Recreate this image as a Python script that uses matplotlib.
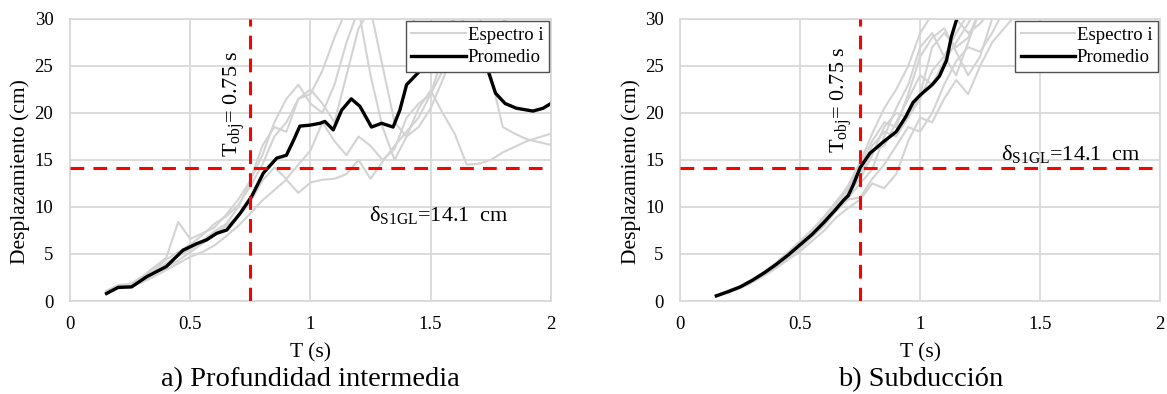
import matplotlib
matplotlib.use('Agg')
import matplotlib.pyplot as plt

plt.rcParams['font.family'] = ['Liberation Serif', 'DejaVu Serif']
plt.rcParams['mathtext.fontset'] = 'custom'
plt.rcParams['mathtext.rm'] = 'Liberation Serif'
plt.rcParams['mathtext.it'] = 'Liberation Serif:italic'

# periodo (s) comun a los espectros
T = [0.15, 0.20, 0.25, 0.30, 0.35, 0.40, 0.45, 0.50, 0.55, 0.60, 0.65, 0.70,
     0.75, 0.80, 0.85, 0.90, 0.95, 1.00, 1.05, 1.10, 1.15, 1.20, 1.25, 1.30,
     1.35, 1.40, 1.45, 1.50, 1.55, 1.60, 1.65, 1.70, 1.75, 1.80, 1.85, 1.90,
     1.95, 2.00]

# a) profundidad intermedia: espectros individuales (cm)
esp_a1 = [1.0, 1.7, 1.8, 2.6, 3.6, 4.6, 8.4, 6.6, 7.2, 7.8, 9.2, 10.8,
          12.8, 15.5, 19.0, 21.5, 23.0, 21.0, 20.0, 23.0, 27.5, 31.0, 24.0, 18.5,
          15.0, 17.5, 20.5, 22.4, 20.0, 17.8, 14.5, 14.6, 15.0, 15.8, 16.4, 17.0,
          17.4, 17.8]
esp_a2 = [0.9, 1.3, 1.5, 2.0, 2.6, 3.3, 4.0, 4.7, 5.2, 5.9, 6.9, 8.0,
          9.3, 10.7, 11.8, 12.9, 11.5, 12.6, 12.9, 13.0, 13.5, 15.0, 13.0, 14.8,
          16.5, 18.0, 19.5, 22.0, 26.0, 31.0, 31.0, 31.0, 24.0, 18.5, 17.8, 17.2,
          16.9, 16.6]
esp_a3 = [1.1, 1.6, 1.7, 2.5, 3.3, 4.4, 5.2, 6.0, 7.0, 8.2, 9.0, 10.2,
          12.2, 14.5, 17.5, 19.0, 21.5, 22.0, 24.5, 28.0, 31.0, 31.5, 31.0, 25.0,
          19.0, 17.5, 18.5, 20.5, 23.5, 27.0, 31.0, 31.0, 31.0, 30.0, 28.0, 26.0,
          27.0, 28.0]
esp_a4 = [0.8, 1.5, 1.6, 2.2, 2.9, 3.6, 4.3, 5.2, 6.1, 7.0, 8.0, 9.0,
          10.5, 12.8, 14.2, 13.0, 14.5, 16.0, 19.0, 17.0, 15.5, 17.5, 16.5, 15.0,
          16.2, 19.5, 21.0, 22.0, 24.5, 28.0, 31.0, 31.0, 31.0, 30.0, 29.0, 28.0,
          28.0, 29.0]
esp_a5 = [0.9, 1.6, 1.7, 2.4, 3.1, 4.0, 4.8, 5.5, 6.4, 7.4, 8.2, 10.0,
          12.8, 16.5, 18.5, 18.0, 21.5, 22.5, 21.0, 19.0, 24.0, 29.0, 31.0, 31.0,
          31.0, 31.0, 29.0, 27.0, 28.0, 30.0, 31.0, 31.0, 31.0, 31.0, 31.0, 31.0,
          31.0, 31.0]

# a) promedio
prom_a_T = [0.152, 0.20, 0.256, 0.32, 0.40, 0.47, 0.527, 0.568, 0.61, 0.652,
            0.707, 0.755, 0.804, 0.86, 0.90, 0.93, 0.956, 0.998, 1.04, 1.06,
            1.095, 1.13, 1.17, 1.206, 1.254, 1.296, 1.344, 1.372, 1.40, 1.434,
            1.46, 1.52, 1.60, 1.68, 1.74, 1.77, 1.81, 1.857, 1.926, 1.968, 2.0]
prom_a = [0.8, 1.45, 1.5, 2.6, 3.65, 5.4, 6.1, 6.5, 7.2, 7.55,
          9.3, 11.1, 13.6, 15.2, 15.5, 17.1, 18.6, 18.7, 18.9, 19.1,
          18.2, 20.3, 21.5, 20.7, 18.5, 18.9, 18.5, 20.3, 23.0, 23.9,
          24.6, 25.8, 26.8, 26.2, 24.4, 22.1, 21.0, 20.5, 20.2, 20.5, 21.0]

# b) subduccion: espectros individuales (cm)
T_b = T[:28]
esp_b = [
    [0.5, 1.0, 1.5, 2.2, 3.0, 3.9, 5.0, 6.2, 7.3, 8.6, 10.2, 11.0, 12.5, 14.0,
     17.5, 20.5, 23.0, 27.0, 28.5, 26.0, 24.0, 27.5, 31.0, 31.5, 32, 32, 32, 32],
    [0.5, 0.9, 1.4, 2.0, 2.7, 3.5, 4.4, 5.3, 6.4, 7.5, 8.9, 9.9, 10.8, 12.5,
     12.0, 13.5, 17.0, 19.5, 19.0, 21.5, 23.5, 22.0, 25.0, 27.5, 29.0, 30.5, 32, 32],
    [0.6, 1.1, 1.6, 2.3, 3.1, 4.1, 5.2, 6.4, 7.6, 9.0, 10.6, 12.0, 14.5, 17.0,
     19.0, 18.5, 22.0, 26.0, 28.0, 29.0, 26.5, 24.0, 26.0, 30.0, 32, 32, 32, 32],
    [0.5, 1.0, 1.5, 2.1, 2.9, 3.8, 4.8, 5.9, 7.0, 8.3, 9.8, 11.5, 13.0, 15.5,
     18.5, 20.0, 19.5, 22.0, 27.0, 28.5, 27.0, 28.0, 31.0, 32, 32, 32, 32, 32],
    [0.5, 0.9, 1.4, 2.0, 2.8, 3.7, 4.6, 5.6, 6.8, 8.0, 9.6, 10.8, 11.0, 13.0,
     14.5, 16.5, 18.5, 18.0, 20.0, 23.0, 25.5, 27.0, 26.5, 28.5, 31.0, 32, 32, 32],
    [0.6, 1.1, 1.6, 2.3, 3.1, 4.0, 5.1, 6.2, 7.4, 8.8, 10.5, 12.3, 14.8, 17.8,
     20.5, 22.5, 25.0, 28.5, 30.5, 31.5, 30.0, 28.5, 29.5, 31.0, 32, 32, 32, 32],
    [0.5, 1.0, 1.5, 2.2, 3.0, 3.9, 4.9, 6.0, 7.2, 8.5, 10.0, 11.2, 13.5, 16.0,
     16.5, 19.0, 21.5, 24.0, 23.0, 25.5, 27.5, 29.5, 32, 32, 32, 32, 32, 32],
    [0.5, 1.0, 1.5, 2.2, 3.0, 3.9, 4.9, 6.1, 7.3, 8.6, 10.3, 11.8, 13.8, 16.5,
     18.0, 17.5, 19.5, 21.5, 24.5, 26.0, 28.5, 30.5, 32, 32, 32, 32, 32, 32],
]

# b) promedio
prom_b_T = [0.15, 0.20, 0.25, 0.30, 0.35, 0.40, 0.45, 0.50, 0.55, 0.60, 0.65,
            0.68, 0.70, 0.72, 0.75, 0.79, 0.85, 0.90, 0.94, 0.97, 1.00, 1.05,
            1.08, 1.11, 1.13, 1.155, 1.20]
prom_b = [0.55, 1.0, 1.5, 2.2, 3.0, 3.9, 4.9, 6.0, 7.1, 8.4, 9.8,
          10.7, 11.2, 12.3, 14.2, 15.7, 17.0, 18.0, 19.6, 21.1, 21.9, 23.0,
          23.9, 25.6, 28.1, 30.2, 33.0]

T_obj = 0.75
delta_s1gl = 14.1

gris = '#d3d3d3'
rojo = '#ff0000'

fig = plt.figure(figsize=(11.67, 3.94), dpi=100)
ax_a = fig.add_axes([0.060, 0.236, 0.412, 0.716])
ax_b = fig.add_axes([0.583, 0.236, 0.411, 0.716])


def formato(ax):
    ax.set_xlim(0, 2)
    ax.set_ylim(0, 30)
    ax.set_xticks([0, 0.5, 1, 1.5, 2])
    ax.set_xticklabels(['0', '0.5', '1', '1.5', '2'])
    ax.set_yticks([0, 5, 10, 15, 20, 25, 30])
    ax.grid(True, color='#d9d9d9', linewidth=1.3)
    ax.set_axisbelow(True)
    for s in ax.spines.values():
        s.set_color('#d9d9d9')
        s.set_linewidth(1.3)
    ax.tick_params(axis='both', length=0, labelsize=13.5)
    ax.tick_params(axis='x', pad=11)
    ax.tick_params(axis='y', pad=12)
    ax.set_xlabel('T (s)', fontsize=15.5, labelpad=7)
    ax.set_ylabel('Desplazamiento (cm)', fontsize=15.5)
    ax.yaxis.set_label_coords(-0.083, 0.46)
    # periodo objetivo y desplazamiento del S1GL
    ax.axvline(T_obj, color=rojo, linewidth=2.2, dashes=(4.5, 3.0), zorder=4)
    ax.axhline(delta_s1gl, color=rojo, linewidth=2.2, dashes=(4.5, 3.0), zorder=4)


# a) Profundidad intermedia
for i, e in enumerate([esp_a1, esp_a2, esp_a3, esp_a4, esp_a5]):
    ax_a.plot(T, e, color=gris, linewidth=1.5,
              label='Espectro i' if i == 0 else None)
ax_a.plot(prom_a_T, prom_a, color='black', linewidth=2.4, label='Promedio')
formato(ax_a)
ax_a.text(0.685, 21.0, r'T$_{\rm obj}$= 0.75 s', rotation=90, ha='center',
          va='center', fontsize=16)
ax_a.text(1.535, 9.1, r'δ$_{\rm S1GL}$=14.1  cm', ha='center', va='center',
          fontsize=16)

# b) Subduccion
for i, e in enumerate(esp_b):
    ax_b.plot(T_b, e, color=gris, linewidth=1.5,
              label='Espectro i' if i == 0 else None)
ax_b.plot(prom_b_T, prom_b, color='black', linewidth=2.4, label='Promedio')
formato(ax_b)
ax_b.text(0.67, 21.4, r'T$_{\rm obj}$= 0.75 s', rotation=90, ha='center',
          va='center', fontsize=16)
ax_b.text(1.63, 15.6, r'δ$_{\rm S1GL}$=14.1  cm', ha='center', va='center',
          fontsize=16)

for ax in (ax_a, ax_b):
    leg = ax.legend(loc='upper right', fontsize=13.5, frameon=True,
                    fancybox=False, borderaxespad=0.1, handlelength=2.9,
                    handletextpad=0.1, labelspacing=0.3, borderpad=0.3)
    leg.get_frame().set_edgecolor('#505050')
    leg.get_frame().set_linewidth(1.0)
    leg.get_frame().set_alpha(1.0)

fig.text(0.266, 0.036, 'a) Profundidad intermedia', ha='center', va='center',
         fontsize=20.5)
fig.text(0.789, 0.036, 'b) Subducción', ha='center', va='center',
         fontsize=20.5)

fig.savefig('out.png', dpi=100)
